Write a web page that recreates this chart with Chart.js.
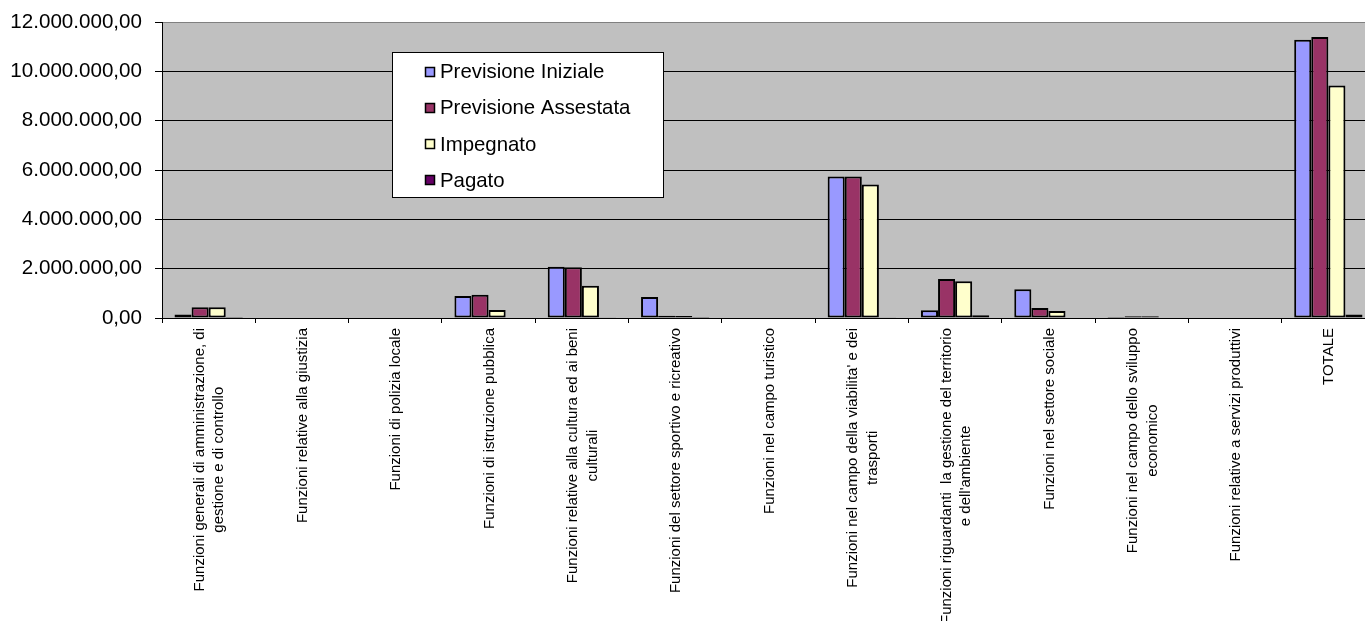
<!DOCTYPE html>
<html lang="it">
<head>
<meta charset="utf-8">
<title>Spese per funzioni</title>
<script src="https://cdn.jsdelivr.net/npm/chart.js@4/dist/chart.umd.min.js"></script>
<style>
  html, body { margin: 0; padding: 0; background: #ffffff; overflow: hidden; }
  #wrap { width: 1365px; height: 621px; overflow: hidden; }
  canvas { display: block; }
</style>
</head>
<body>
<div id="wrap"><canvas id="grafico" width="1375" height="621"></canvas></div>
<script>
// Funzioni di spesa (etichette su più righe dove serve)
const categorie = [
  ["Funzioni generali di amministrazione, di", "gestione e di controllo"],
  ["Funzioni relative alla giustizia"],
  ["Funzioni di polizia locale"],
  ["Funzioni di istruzione pubblica"],
  ["Funzioni relative alla cultura ed ai beni", "culturali"],
  ["Funzioni del settore sportivo e ricreativo"],
  ["Funzioni nel campo turistico"],
  ["Funzioni nel campo della viabilita' e dei", "trasporti"],
  ["Funzioni riguardanti  la gestione del territorio", "e dell'ambiente"],
  ["Funzioni nel settore sociale"],
  ["Funzioni nel campo dello sviluppo", "economico"],
  ["Funzioni relative a servizi produttivi"],
  ["TOTALE"]
];

// Importi in euro
const previsioneIniziale  = [145000, 0, 0, 890000, 2080000, 850000, 0, 5740000, 310000, 1170000, 40000, 0, 11280000];
const previsioneAssestata = [433000, 0, 0, 947000, 2060000, 90000, 0, 5740000, 1580000, 405000, 75000, 0, 11390000];
const impegnato           = [433000, 0, 0, 324000, 1310000, 80000, 0, 5410000, 1490000, 283000, 70000, 0, 9430000];
const pagato              = [40000, 0, 0, 0, 35000, 40000, 0, 35000, 115000, 0, 0, 0, 137000];

const nomiSerie = ["Previsione Iniziale", "Previsione Assestata", "Impegnato", "Pagato"];
const coloriSerie = ["#9999FF", "#993366", "#FFFFCC", "#660066"];

// Asse verticale
const asseMin = 0;
const asseMax = 12000000;
const assePasso = 2000000;

const FONT = "'Liberation Sans', Arial, sans-serif";

// 12000000 -> "12.000.000,00"
function formatoEuro(v) {
  const intero = Math.round(Math.abs(v)).toString().replace(/\B(?=(\d{3})+(?!\d))/g, ".");
  return (v < 0 ? "-" : "") + intero + ",00";
}

// Sfondo grigio dell'area del grafico
const sfondoArea = {
  id: "sfondoArea",
  beforeDraw(chart) {
    const { ctx, chartArea: a } = chart;
    ctx.save();
    ctx.fillStyle = "#C0C0C0";
    ctx.fillRect(a.left, a.top, a.right - a.left, a.bottom - a.top);
    ctx.restore();
  }
};

// Etichette delle categorie: ruotate di 90°, righe centrate fra loro
const etichetteCategorie = {
  id: "etichetteCategorie",
  afterDraw(chart) {
    const { ctx } = chart;
    const x = chart.scales.x;
    const inizio = chart.chartArea.bottom + 10;
    const interlinea = 19.3;
    ctx.save();
    ctx.font = "15px " + FONT;
    ctx.fillStyle = "#000000";
    ctx.textAlign = "center";
    ctx.textBaseline = "middle";
    categorie.forEach((righe, i) => {
      const cx = x.getPixelForValue(i) + 1;
      const larghezza = Math.max(...righe.map(r => ctx.measureText(r).width));
      const cy = inizio + larghezza / 2;
      righe.forEach((r, j) => {
        const lx = cx + (j - (righe.length - 1) / 2) * interlinea;
        ctx.save();
        ctx.translate(lx, cy);
        ctx.rotate(-Math.PI / 2);
        ctx.fillText(r, 0, 0);
        ctx.restore();
      });
    });
    ctx.restore();
  }
};

// Legenda in un riquadro bianco dentro l'area del grafico
const legendaInterna = {
  id: "legendaInterna",
  afterDatasetsDraw(chart) {
    const { ctx, chartArea: a } = chart;
    const bx = a.left + 230, by = a.top + 30, bw = 272, bh = 146;
    ctx.save();
    ctx.fillStyle = "#FFFFFF";
    ctx.fillRect(bx, by, bw, bh);
    ctx.strokeStyle = "#000000";
    ctx.lineWidth = 1;
    ctx.strokeRect(bx + 0.5, by + 0.5, bw - 1, bh - 1);
    ctx.font = "20.4px " + FONT;
    ctx.textAlign = "left";
    ctx.textBaseline = "middle";
    chart.data.datasets.forEach((ds, i) => {
      const cy = by + 19.5 + i * 36.3;
      ctx.fillStyle = ds.backgroundColor;
      ctx.fillRect(bx + 33, Math.round(cy - 5), 10, 10);
      ctx.strokeStyle = "#000000";
      ctx.lineWidth = 1.5;
      ctx.strokeRect(bx + 33.5, Math.round(cy - 5) + 0.5, 9, 9);
      ctx.fillStyle = "#000000";
      ctx.fillText(ds.label, bx + 48, cy + 1);
    });
    ctx.restore();
  }
};

const serie = [previsioneIniziale, previsioneAssestata, impegnato, pagato];

new Chart(document.getElementById("grafico"), {
  type: "bar",
  data: {
    labels: categorie.map(r => r.join(" ")),
    datasets: serie.map((valori, i) => ({
      label: nomiSerie[i],
      data: valori,
      backgroundColor: coloriSerie[i],
      borderColor: "#000000",
      borderWidth: 2,
      borderSkipped: false,
      categoryPercentage: 0.732,
      barPercentage: 1.0
    }))
  },
  options: {
    responsive: false,
    animation: false,
    devicePixelRatio: 1,
    layout: { padding: { top: 22, right: 0, bottom: 0, left: 0 } },
    plugins: {
      legend: { display: false },
      tooltip: { enabled: false }
    },
    scales: {
      x: {
        offset: true,
        grid: {
          offset: true,
          drawOnChartArea: false,
          drawTicks: true,
          tickLength: 5,
          color: "#000000"
        },
        border: { display: true, color: "#000000", width: 1 },
        ticks: { display: false },
        afterFit(scale) { scale.height = 303; }
      },
      y: {
        min: asseMin,
        max: asseMax,
        grid: {
          color: ctx => (ctx.tick && ctx.tick.value === asseMax) ? "#808080" : "#000000",
          lineWidth: 1,
          drawTicks: true,
          tickLength: 7,
          tickColor: "#000000"
        },
        border: { display: true, color: "#000000", width: 1 },
        ticks: {
          stepSize: assePasso,
          padding: 13,
          color: "#000000",
          font: { family: FONT, size: 20.6 },
          callback: v => formatoEuro(v)
        },
        afterFit(scale) {
          scale.width = 162;
          scale.paddingTop = 0;
          scale.paddingBottom = 0;
        }
      }
    }
  },
  plugins: [sfondoArea, etichetteCategorie, legendaInterna]
});
</script>
</body>
</html>
